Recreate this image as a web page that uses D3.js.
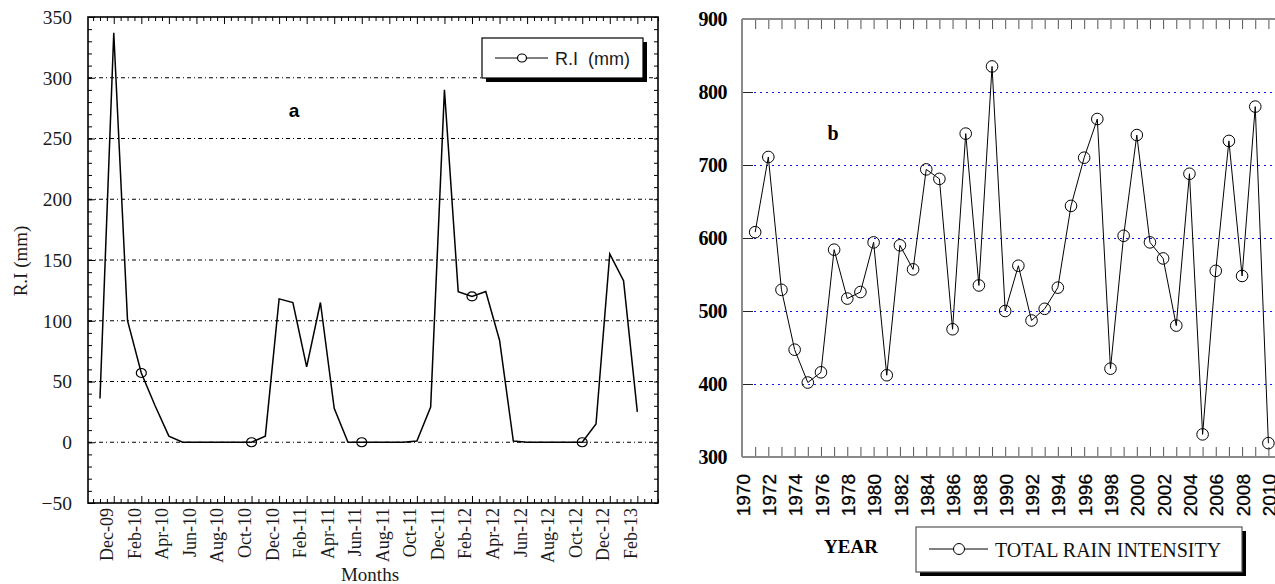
<!DOCTYPE html>
<html>
<head>
<meta charset="utf-8">
<script src="https://cdn.jsdelivr.net/npm/d3@7/dist/d3.min.js"></script>
<style>
body{margin:0;background:#fff;}
svg{display:block;}
</style>
</head>
<body>
<script>
// ---- panel a : monthly rain intensity ----
var months = ["Nov-09","Dec-09","Jan-10","Feb-10","Mar-10","Apr-10","May-10","Jun-10","Jul-10","Aug-10",
  "Sep-10","Oct-10","Nov-10","Dec-10","Jan-11","Feb-11","Mar-11","Apr-11","May-11","Jun-11",
  "Jul-11","Aug-11","Sep-11","Oct-11","Nov-11","Dec-11","Jan-12","Feb-12","Mar-12","Apr-12",
  "May-12","Jun-12","Jul-12","Aug-12","Sep-12","Oct-12","Nov-12","Dec-12","Jan-13","Feb-13"];
var riValues = [36,337,100,57,30,5,0,0,0,0,
  0,0,5,118,115,62,115,28,0,0,
  0,0,0,1,29,290,124,120,124,84,
  1,0,0,0,0,0,15,155,133,25];
var markedMonths = ["Feb-10","Oct-10","Jun-11","Feb-12","Oct-12"];
var monthTicks = ["Dec-09","Feb-10","Apr-10","Jun-10","Aug-10","Oct-10","Dec-10","Feb-11","Apr-11","Jun-11",
  "Aug-11","Oct-11","Dec-11","Feb-12","Apr-12","Jun-12","Aug-12","Oct-12","Dec-12","Feb-13"];
var riTicks = [-50,0,50,100,150,200,250,300,350];
var riGrid = [0,50,100,150,200,250,300];

// ---- panel b : yearly total rain intensity ----
var years = [1971,1972,1973,1974,1975,1976,1977,1978,1979,1980,
  1981,1982,1983,1984,1985,1986,1987,1988,1989,1990,
  1991,1992,1993,1994,1995,1996,1997,1998,1999,2000,
  2001,2002,2003,2004,2005,2006,2007,2008,2009,2010];
var totalRain = [608,711,529,447,402,416,584,517,526,594,
  412,590,557,694,681,475,743,535,835,500,
  562,487,503,532,644,710,763,421,603,741,
  594,572,480,688,331,555,733,548,780,319];
var yearTicks = [1970,1972,1974,1976,1978,1980,1982,1984,1986,1988,1990,
  1992,1994,1996,1998,2000,2002,2004,2006,2008,2010];
var rainTicks = [300,400,500,600,700,800,900];
var rainGrid = [400,500,600,700,800];

var width = 1275, height = 584;
var svg = d3.select("body").append("svg")
  .attr("width", width)
  .attr("height", height);

var serif = "'Liberation Serif','Times New Roman',serif";
var sans = "'Liberation Sans',Arial,sans-serif";

// ================= panel a =================
var ax0 = 88, ax1 = 658, ay0 = 17, ay1 = 503;
var xA = d3.scaleLinear().domain([-0.87, 40.5]).range([ax0, ax1]);
var yA = d3.scaleLinear().domain([-50, 350]).range([ay1, ay0]);
var gA = svg.append("g");

// grid
gA.selectAll(".gridA").data(riGrid).enter().append("line")
  .attr("x1", ax0).attr("x2", ax1)
  .attr("y1", function(d){ return yA(d); })
  .attr("y2", function(d){ return yA(d); })
  .attr("stroke", "#000").attr("stroke-width", 1)
  .attr("stroke-dasharray", "4,3,1,3");

// minor ticks every 10 units, left and right
var minorY = d3.range(-50, 351, 10);
gA.append("g").attr("transform", "translate(" + ax0 + ",0)")
  .call(d3.axisLeft(yA).tickValues(minorY).tickSize(-4).tickFormat(""))
  .call(function(g){ g.select(".domain").remove(); });
gA.append("g").attr("transform", "translate(" + ax1 + ",0)")
  .call(d3.axisRight(yA).tickValues(minorY).tickSize(-4).tickFormat(""))
  .call(function(g){ g.select(".domain").remove(); });

// major y ticks + labels
var yAxisA = gA.append("g").attr("transform", "translate(" + ax0 + ",0)")
  .call(d3.axisLeft(yA).tickValues(riTicks).tickSize(-7).tickPadding(16));
yAxisA.select(".domain").remove();
yAxisA.selectAll("text").attr("font-family", serif).attr("font-size", 19.5).attr("fill", "#1a1a1a");

// x ticks : half months, taller every 2 months
var halfMonths = d3.range(-0.5, 40.51, 0.5);
var bigTicks = halfMonths.filter(function(d){ return d % 2 === 1 || d % 2 === -1; });
var smallTicks = halfMonths.filter(function(d){ return bigTicks.indexOf(d) < 0; });
[[ay1, d3.axisBottom], [ay0, d3.axisTop]].forEach(function(p){
  gA.append("g").attr("transform", "translate(0," + p[0] + ")")
    .call(p[1](xA).tickValues(smallTicks).tickSize(-4).tickFormat(""))
    .call(function(g){ g.select(".domain").remove(); });
  gA.append("g").attr("transform", "translate(0," + p[0] + ")")
    .call(p[1](xA).tickValues(bigTicks).tickSize(-7).tickFormat(""))
    .call(function(g){ g.select(".domain").remove(); });
});

// month labels at the first of the month
gA.selectAll(".mlab").data(monthTicks).enter().append("text")
  .attr("transform", function(d){
    return "translate(" + xA(months.indexOf(d) - 0.5) + "," + (ay1 + 5) + ") rotate(-90)";
  })
  .attr("dy", "0.35em")
  .attr("text-anchor", "end")
  .attr("font-family", serif).attr("font-size", 18).attr("fill", "#1a1a1a")
  .text(function(d){ return d; });

// frame
gA.append("rect")
  .attr("x", ax0).attr("y", ay0)
  .attr("width", ax1 - ax0).attr("height", ay1 - ay0)
  .attr("fill", "none").attr("stroke", "#000").attr("stroke-width", 1.6);

// line
var lineA = d3.line()
  .x(function(d, i){ return xA(i); })
  .y(function(d){ return yA(d); });
gA.append("path").datum(riValues)
  .attr("d", lineA)
  .attr("fill", "none").attr("stroke", "#000").attr("stroke-width", 1.5);

gA.selectAll(".mk").data(markedMonths).enter().append("ellipse")
  .attr("cx", function(d){ return xA(months.indexOf(d)); })
  .attr("cy", function(d){ return yA(riValues[months.indexOf(d)]); })
  .attr("rx", 5).attr("ry", 4.5)
  .attr("fill", "none").attr("stroke", "#000").attr("stroke-width", 1.2);

// titles
gA.append("text")
  .attr("transform", "translate(27,261) rotate(-90)")
  .attr("text-anchor", "middle")
  .attr("font-family", serif).attr("font-size", 19).attr("fill", "#1a1a1a")
  .text("R.I (mm)");
gA.append("text")
  .attr("x", 370).attr("y", 581)
  .attr("text-anchor", "middle")
  .attr("font-family", serif).attr("font-size", 19).attr("fill", "#1a1a1a")
  .text("Months");
gA.append("text")
  .attr("x", 294).attr("y", 117)
  .attr("text-anchor", "middle")
  .attr("font-family", sans).attr("font-weight", "bold").attr("font-size", 19)
  .text("a");

// legend a
var legA = gA.append("g").attr("transform", "translate(482,38)");
legA.append("rect").attr("x", 4).attr("y", 4).attr("width", 161).attr("height", 40).attr("fill", "#000");
legA.append("rect").attr("width", 161).attr("height", 40)
  .attr("fill", "#fff").attr("stroke", "#000").attr("stroke-width", 1.2);
legA.append("line").attr("x1", 13).attr("x2", 66).attr("y1", 20).attr("y2", 20)
  .attr("stroke", "#000").attr("stroke-width", 1.2);
legA.append("ellipse").attr("cx", 40).attr("cy", 20).attr("rx", 4.5).attr("ry", 4)
  .attr("fill", "#fff").attr("stroke", "#000").attr("stroke-width", 1.2);
legA.append("text").attr("x", 73).attr("y", 27)
  .attr("font-family", sans).attr("font-size", 18).attr("fill", "#1a1a1a")
  .attr("xml:space", "preserve")
  .text("R.I  (mm)");

// ================= panel b =================
var bx0 = 742, by0 = 19, by1 = 457;
var xB = d3.scaleLinear().domain([1970, 2010]).range([bx0, 1268.4]);
var yB = d3.scaleLinear().domain([300, 900]).range([by1, by0]);
var bx1 = xB(2010.5);
var gB = svg.append("g");

gB.selectAll(".gridB").data(rainGrid).enter().append("line")
  .attr("x1", bx0).attr("x2", bx1)
  .attr("y1", function(d){ return Math.round(yB(d)) + 0.5; })
  .attr("y2", function(d){ return Math.round(yB(d)) + 0.5; })
  .attr("stroke", "#1010e8").attr("stroke-width", 1)
  .attr("stroke-dasharray", "2,4");

var allYears = d3.range(1970, 2011);
[[by1, d3.axisBottom], [by0, d3.axisTop]].forEach(function(p){
  gB.append("g").attr("transform", "translate(0," + p[0] + ")")
    .call(p[1](xB).tickValues(allYears).tickSize(-10).tickFormat(""))
    .call(function(g){
      g.select(".domain").remove();
      g.selectAll("line").attr("stroke", "#555");
    });
});

var yAxisB = gB.append("g").attr("transform", "translate(" + bx0 + ",0)")
  .call(d3.axisLeft(yB).tickValues(rainTicks).tickSize(-11).tickPadding(15));
yAxisB.select(".domain").remove();
yAxisB.selectAll("line").attr("stroke", "#222");
yAxisB.selectAll("text").attr("font-family", serif).attr("font-weight", "bold")
  .attr("font-size", 20).attr("fill", "#000").attr("letter-spacing", "-0.5");

gB.selectAll(".ylab").data(yearTicks).enter().append("text")
  .attr("transform", function(d){ return "translate(" + (xB(d) + 1) + "," + (by1 + 17) + ") rotate(-90)"; })
  .attr("dy", "0.35em")
  .attr("text-anchor", "end")
  .attr("font-family", sans).attr("font-size", 19).attr("fill", "#000")
  .attr("stroke", "#000").attr("stroke-width", 0.3)
  .text(function(d){ return d; });

// frame lines
gB.append("line").attr("x1", bx0).attr("x2", bx0).attr("y1", by0).attr("y2", by1)
  .attr("stroke", "#8a8a8a").attr("stroke-width", 2);
gB.append("line").attr("x1", bx0).attr("x2", bx1).attr("y1", by0).attr("y2", by0)
  .attr("stroke", "#8a8a8a").attr("stroke-width", 2);
gB.append("line").attr("x1", bx0).attr("x2", bx1).attr("y1", by1).attr("y2", by1)
  .attr("stroke", "#8a8a8a").attr("stroke-width", 2);

var lineB = d3.line()
  .x(function(d, i){ return xB(years[i]); })
  .y(function(d){ return yB(d); });
gB.append("path").datum(totalRain)
  .attr("d", lineB)
  .attr("fill", "none").attr("stroke", "#000").attr("stroke-width", 1);

gB.selectAll(".pt").data(totalRain).enter().append("circle")
  .attr("cx", function(d, i){ return xB(years[i]); })
  .attr("cy", function(d){ return yB(d); })
  .attr("r", 5.8)
  .attr("fill", "none").attr("stroke", "#000").attr("stroke-width", 1);

gB.append("text")
  .attr("x", 833).attr("y", 140)
  .attr("text-anchor", "middle")
  .attr("font-family", serif).attr("font-weight", "bold").attr("font-size", 20)
  .text("b");
gB.append("text")
  .attr("x", 851).attr("y", 553)
  .attr("text-anchor", "middle")
  .attr("font-family", serif).attr("font-weight", "bold").attr("font-size", 19)
  .text("YEAR");

// legend b
var legB = gB.append("g").attr("transform", "translate(916,527)");
legB.append("rect").attr("x", 4).attr("y", 4).attr("width", 326).attr("height", 45).attr("fill", "#000");
legB.append("rect").attr("width", 326).attr("height", 45)
  .attr("fill", "#fff").attr("stroke", "#555").attr("stroke-width", 1.2);
legB.append("line").attr("x1", 13).attr("x2", 72).attr("y1", 22).attr("y2", 22)
  .attr("stroke", "#000").attr("stroke-width", 1);
legB.append("circle").attr("cx", 43).attr("cy", 22).attr("r", 5.5)
  .attr("fill", "#fff").attr("stroke", "#000").attr("stroke-width", 1);
legB.append("text").attr("x", 79).attr("y", 30)
  .attr("font-family", serif).attr("font-size", 20).attr("fill", "#111")
  .text("TOTAL RAIN INTENSITY");
</script>
</body>
</html>
